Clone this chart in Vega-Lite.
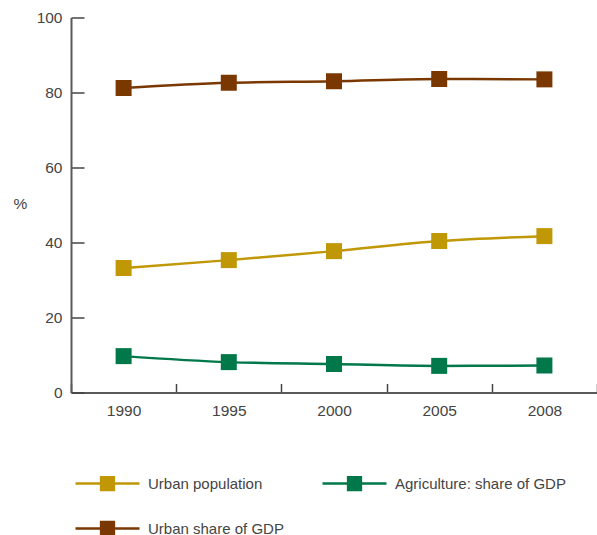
{
  "$schema": "https://vega.github.io/schema/vega-lite/v6.json",
  "width": 526,
  "height": 375,
  "padding": {"left": 71, "top": 17.5, "right": 0, "bottom": 142.5},
  "autosize": {"type": "none"},
  "background": "white",
  "config": {
    "view": {"stroke": null},
    "font": "Liberation Sans",
    "axis": {
      "labelFont": "Liberation Sans",
      "labelFontSize": 15.5,
      "labelColor": "#444444",
      "domainColor": "#5a5a5a",
      "domainWidth": 2,
      "tickColor": "#444444",
      "tickWidth": 1.5,
      "grid": false
    }
  },
  "data": {
    "values": [
      {"year": "1990", "series": "Urban population", "value": 33.2},
      {"year": "1995", "series": "Urban population", "value": 35.3},
      {"year": "2000", "series": "Urban population", "value": 37.7},
      {"year": "2005", "series": "Urban population", "value": 40.4},
      {"year": "2008", "series": "Urban population", "value": 41.7},
      {"year": "1990", "series": "Agriculture: share of GDP", "value": 9.7},
      {"year": "1995", "series": "Agriculture: share of GDP", "value": 8.1},
      {"year": "2000", "series": "Agriculture: share of GDP", "value": 7.6},
      {"year": "2005", "series": "Agriculture: share of GDP", "value": 7.1},
      {"year": "2008", "series": "Agriculture: share of GDP", "value": 7.2},
      {"year": "1990", "series": "Urban share of GDP", "value": 81.2},
      {"year": "1995", "series": "Urban share of GDP", "value": 82.6},
      {"year": "2000", "series": "Urban share of GDP", "value": 83.0},
      {"year": "2005", "series": "Urban share of GDP", "value": 83.6},
      {"year": "2008", "series": "Urban share of GDP", "value": 83.5}
    ]
  },
  "encoding": {
    "x": {
      "field": "year",
      "type": "ordinal",
      "scale": {"type": "band", "paddingInner": 0, "paddingOuter": 0},
      "axis": {
        "title": null,
        "labelAngle": 0,
        "tickBand": "extent",
        "tickSize": -9,
        "labelPadding": 20
      }
    },
    "y": {
      "field": "value",
      "type": "quantitative",
      "scale": {"domain": [0, 100], "nice": false},
      "axis": {
        "title": "%",
        "titleAngle": 0,
        "titleX": -51,
        "titleY": 186,
        "titleAlign": "center",
        "titleBaseline": "middle",
        "titleFont": "Liberation Sans",
        "titleFontSize": 15.5,
        "titleFontWeight": "normal",
        "titleColor": "#444444",
        "values": [0, 20, 40, 60, 80, 100],
        "tickSize": -13,
        "labelPadding": 22
      }
    },
    "color": {
      "field": "series",
      "type": "nominal",
      "scale": {
        "domain": ["Urban population", "Agriculture: share of GDP", "Urban share of GDP"],
        "range": ["#C09705", "#00784A", "#7A3800"]
      },
      "legend": {
        "title": null,
        "orient": "none",
        "legendX": 3,
        "legendY": 432.5,
        "direction": "horizontal",
        "columns": 2,
        "padding": 0,
        "columnPadding": 33,
        "rowPadding": -21,
        "symbolType": "M-1,0H1M-0.2,-0.2H0.2V0.2H-0.2Z",
        "symbolSize": 4096,
        "symbolStrokeWidth": 2.5,
        "symbolOpacity": 1,
        "labelFont": "Liberation Sans",
        "labelFontSize": 15,
        "labelColor": "#444444",
        "labelOffset": 7,
        "labelLimit": 300
      }
    }
  },
  "layer": [
    {
      "mark": {"type": "line", "strokeWidth": 2.5, "interpolate": "monotone"}
    },
    {
      "mark": {"type": "square", "size": 256, "opacity": 1, "filled": true}
    }
  ]
}
